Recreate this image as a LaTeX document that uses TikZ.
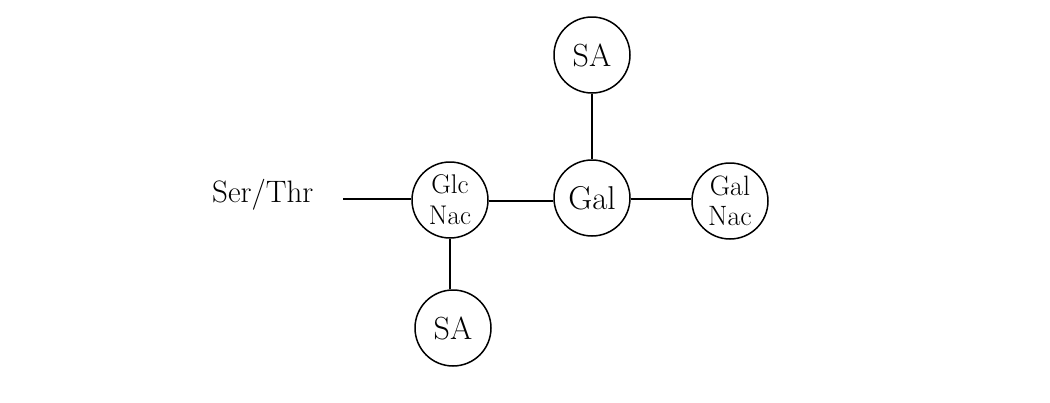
\documentclass[tikz,border=0pt]{standalone}
\begin{document}
\begin{tikzpicture}[x=1pt,y=-1pt,
  sugar/.style={draw,circle,line width=1.5pt,minimum size=76pt,inner sep=0pt,align=center},
  link/.style={line width=1.5pt}]
\useasboundingbox (0,0) rectangle (1050,402);
\node[sugar,font=\fontsize{32}{36}\selectfont] (sa1) at (592,55) {SA};
\node[sugar,font=\fontsize{33}{36}\selectfont] (gal) at (592,198) {Gal};
\node[sugar,font=\fontsize{27}{31}\selectfont] (glc) at (450,200) {Glc\\Nac};
\node[sugar,font=\fontsize{28}{30}\selectfont] (galnac) at (730,201) {Gal\\Nac};
\node[sugar,font=\fontsize{32}{36}\selectfont] (sa2) at (453,328) {SA};
\node[anchor=base west,inner sep=0pt,font=\fontsize{31}{36}\selectfont] (ser) at (212,202) {Ser/Thr};
\coordinate (serend) at (343,199);
\draw[link] (serend) -- (glc.west |- serend);
\draw[link] (glc.east |- 0,201) -- (gal.west |- 0,201);
\draw[link] (gal.east |- 0,199) -- (galnac.west |- 0,199);
\draw[link] (sa1) -- (gal);
\draw[link] (glc.south) -- (sa2.north -| glc.south);
\end{tikzpicture}
\end{document}
